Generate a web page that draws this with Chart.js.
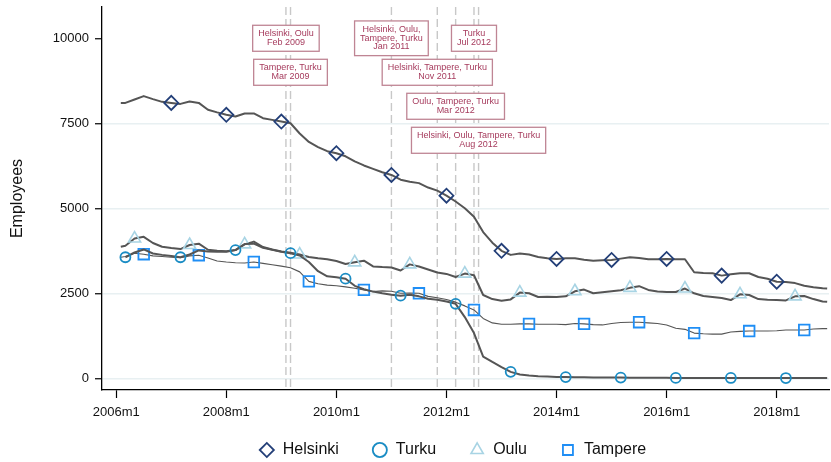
<!DOCTYPE html>
<html>
<head>
<meta charset="utf-8">
<script src="https://cdn.jsdelivr.net/npm/chart.js@4.4.1/dist/chart.umd.min.js"></script>
<style>
  html, body { margin: 0; padding: 0; background: #fff; }
</style>
</head>
<body>
<canvas id="myChart" width="831" height="462"></canvas>
<script>
// month index, 0 = 2006m1; one reading every second month
const months = [1];
for (let m = 2; m <= 154; m += 2) months.push(m);
months.push(155);

const helsinki = [
  8100, 8100, 8200, 8300, 8210, 8130, 8100, 8070, 8140, 8100,
  7900, 7820, 7750, 7700, 7790, 7790, 7650, 7600, 7550, 7500,
  7200, 6950, 6800, 6680, 6620, 6530, 6380, 6260, 6160, 6060,
  5980, 5840, 5780, 5740, 5610, 5520, 5370, 5200, 5000, 4750,
  4300, 3990, 3750, 3630, 3670, 3640, 3570, 3530, 3510, 3530,
  3530, 3490, 3460, 3470, 3480, 3520, 3560, 3540, 3500, 3500,
  3510, 3500, 3500, 3120, 3100, 3090, 3020, 3060, 3090, 3090,
  2980, 2930, 2840, 2830, 2800, 2720, 2680, 2650, 2640
];
const turku = [
  null, 3560, 3700, 3790, 3670, 3630, 3600, 3560, 3640, 3760,
  3730, 3720, 3720, 3770, 3950, 3960, 3840, 3780, 3720, 3680,
  3610, 3420, 3150, 3000, 2970, 2930, 2720, 2620, 2550, 2500,
  2460, 2430, 2460, 2410, 2340, 2310, 2260, 2190, 1800, 1330,
  640, 480, 330, 190, 110, 80, 60, 50, 40, 35,
  30, 28, 25, 22, 20, 20, 18, 18, 15, 15,
  15, 12, 12, 12, 10, 10, 10, 10, 10, 8,
  8, 8, 8, 8, 6, 6, 6, 6, 6
];
const oulu = [
  3870, 3900, 4110, 4160, 3980, 3870, 3830, 3800, 3920, 3960,
  3780, 3750, 3740, 3770, 3940, 4020, 3860, 3790, 3730, 3690,
  3640, 3570, 3530, 3500, 3450, 3360, 3410, 3460, 3290, 3270,
  3260, 3170, 3350, 3290, 3200, 3110, 3070, 2980, 3080, 3030,
  2450, 2330, 2280, 2320, 2520, 2500, 2390, 2400, 2390, 2410,
  2560, 2610, 2500, 2530, 2560, 2590, 2660, 2710, 2600, 2550,
  2540, 2540, 2640, 2500, 2420, 2390, 2360, 2300, 2470, 2450,
  2330, 2310, 2300, 2290, 2410, 2420, 2330, 2260, 2250
];
const tampere = [
  3560, 3580, 3680, 3650, 3600, 3580, 3560, 3550, 3600, 3620,
  3540, 3450, 3420, 3400, 3390, 3420, 3380, 3340, 3300, 3250,
  3130, 2850, 2780, 2740, 2720, 2690, 2650, 2600, 2550, 2570,
  2560, 2500, 2510, 2500, 2410, 2370, 2320, 2240, 2130, 2010,
  1760, 1630, 1590, 1590, 1600, 1600, 1590, 1590, 1590, 1580,
  1610, 1600, 1580, 1570, 1610, 1640, 1650, 1650, 1630, 1610,
  1570, 1470, 1440, 1330, 1310, 1300, 1300, 1360, 1380, 1390,
  1390, 1390, 1400, 1420, 1420, 1420, 1450, 1460, 1460
];

const tickMonths = [0, 24, 48, 72, 96, 120, 144];
const tickLabels = ["2006m1", "2008m1", "2010m1", "2012m1", "2014m1", "2016m1", "2018m1"];
const yTicks = [0, 2500, 5000, 7500, 10000];

// merger dates and the regions involved
const eventMonths = [37, 38, 60, 70, 74, 78, 79];
const eventLevels = [10000, 9000, 10000, 9000, 8000, 10000, 7000];
const eventLabels = [
  ["Helsinki, Oulu", "Feb 2009"],
  ["Tampere, Turku", "Mar 2009"],
  ["Helsinki, Oulu,", "Tampere, Turku", "Jan 2011"],
  ["Helsinki, Tampere, Turku", "Nov 2011"],
  ["Oulu, Tampere, Turku", "Mar 2012"],
  ["Turku", "Jul 2012"],
  ["Helsinki, Oulu, Tampere, Turku", "Aug 2012"]
];

const FONT = "'Liberation Sans', Arial, Helvetica, sans-serif";
Chart.defaults.font.family = FONT;
Chart.defaults.color = "#000";

// markers every 12 months, each series starting at its own month
function markerRadius(first, r) {
  return (c) => {
    const m = months[c.dataIndex];
    return m >= first && (m - first) % 12 === 0 ? r : 0;
  };
}

function series(label, values, style) {
  return {
    label: label,
    data: months.map((m, i) => ({ x: m, y: values[i] })),
    borderColor: "#555555",
    borderWidth: style.lineWidth,
    borderJoinStyle: "round",
    tension: 0,
    pointStyle: style.shape,
    pointRadius: markerRadius(style.first, style.r),
    pointHoverRadius: 0,
    pointHitRadius: 0,
    pointBorderColor: style.color,
    pointBackgroundColor: "rgba(0,0,0,0)",
    pointBorderWidth: style.markerWidth
  };
}

const eventLines = {
  id: "eventLines",
  beforeDatasetsDraw(chart) {
    const { ctx, chartArea, scales: { x } } = chart;
    ctx.save();
    ctx.strokeStyle = "#c8c8c8";
    ctx.lineWidth = 1.4;
    ctx.setLineDash([8, 4]);
    for (const m of eventMonths) {
      const px = x.getPixelForValue(m);
      ctx.beginPath();
      ctx.moveTo(px, chartArea.top);
      ctx.lineTo(px, chartArea.bottom);
      ctx.stroke();
    }
    ctx.restore();
  },
  afterDatasetsDraw(chart) {
    const { ctx, scales: { x, y } } = chart;
    ctx.save();
    ctx.font = "9px " + FONT;
    ctx.textAlign = "center";
    ctx.textBaseline = "middle";
    const lineH = 8.7;
    eventLabels.forEach((lines, i) => {
      const cx = x.getPixelForValue(eventMonths[i]);
      const cy = y.getPixelForValue(eventLevels[i]);
      const w = Math.max(...lines.map((t) => ctx.measureText(t).width)) + 11;
      const h = lines.length * lineH + 8.6;
      ctx.fillStyle = "#fff";
      ctx.fillRect(cx - w / 2, cy - h / 2, w, h);
      ctx.strokeStyle = "#bf8594";
      ctx.lineWidth = 1.3;
      ctx.strokeRect(cx - w / 2, cy - h / 2, w, h);
      ctx.fillStyle = "#a63b5d";
      lines.forEach((t, j) => {
        ctx.fillText(t, cx, cy - h / 2 + 4.3 + lineH * (j + 0.5));
      });
    });
    ctx.restore();
  }
};

// nudge the legend row to sit under the plot
const legendShift = {
  id: "legendShift",
  afterLayout(chart) {
    const lg = chart.legend;
    lg.left += 38;
    lg.right += 38;
    lg.top -= 13;
  }
};

const ctx = document.getElementById("myChart").getContext("2d");
const myChart = new Chart(ctx, {
  type: "line",
  data: {
    datasets: [
      series("Helsinki", helsinki, { color: "#233f78", shape: "rectRot", r: 7, first: 12, lineWidth: 2, markerWidth: 1.8 }),
      series("Turku", turku, { color: "#1a8cc4", shape: "circle", r: 5, first: 2, lineWidth: 2, markerWidth: 1.8 }),
      series("Oulu", oulu, { color: "#a8d4e4", shape: "triangle", r: 7, first: 4, lineWidth: 2, markerWidth: 1.6 }),
      series("Tampere", tampere, { color: "#1f8ef5", shape: "rect", r: 7.5, first: 6, lineWidth: 1.1, markerWidth: 1.8 })
    ]
  },
  options: {
    responsive: false,
    animation: false,
    devicePixelRatio: 1,
    events: [],
    layout: { padding: { left: 0, right: 2, top: 7, bottom: 0 } },
    plugins: {
      tooltip: { enabled: false },
      legend: {
        position: "bottom",
        maxHeight: 40,
        labels: {
          usePointStyle: true,
          boxWidth: 16,
          boxHeight: 10,
          padding: 33,
          color: "#111",
          font: { size: 16 }
        }
      }
    },
    scales: {
      x: {
        type: "linear",
        min: -3.1,
        max: 155.4,
        afterBuildTicks: (scale) => {
          scale.ticks = tickMonths.map((v) => ({ value: v }));
        },
        afterFit: (scale) => {
          scale.height = 32;
        },
        ticks: {
          autoSkip: false,
          maxRotation: 0,
          padding: 7,
          font: { size: 13 },
          color: "#111",
          callback: (v) => tickLabels[tickMonths.indexOf(v)]
        },
        grid: { drawOnChartArea: false, tickLength: 8, tickColor: "#000", tickWidth: 1.2 },
        border: { color: "#000", width: 1.3 }
      },
      y: {
        type: "linear",
        min: -344,
        max: 10920,
        afterBuildTicks: (scale) => {
          scale.ticks = yTicks.map((v) => ({ value: v }));
        },
        afterFit: (scale) => {
          scale.width = 102;
          scale.paddingTop = 0;
          scale.paddingBottom = 0;
        },
        ticks: {
          padding: 6,
          font: { size: 13 },
          color: "#111",
          callback: (v) => String(v)
        },
        grid: {
          color: (c) => (c.tick && c.tick.value === 10000 ? "rgba(0,0,0,0)" : "#e8f0f2"),
          lineWidth: 1.5,
          tickLength: 7,
          tickColor: "#000",
          tickWidth: 1.2
        },
        border: { color: "#000", width: 1.3 },
        title: {
          display: true,
          text: "Employees",
          color: "#111",
          font: { size: 16 },
          padding: { top: 8, bottom: 0 }
        }
      }
    }
  },
  plugins: [eventLines, legendShift]
});
</script>
</body>
</html>
